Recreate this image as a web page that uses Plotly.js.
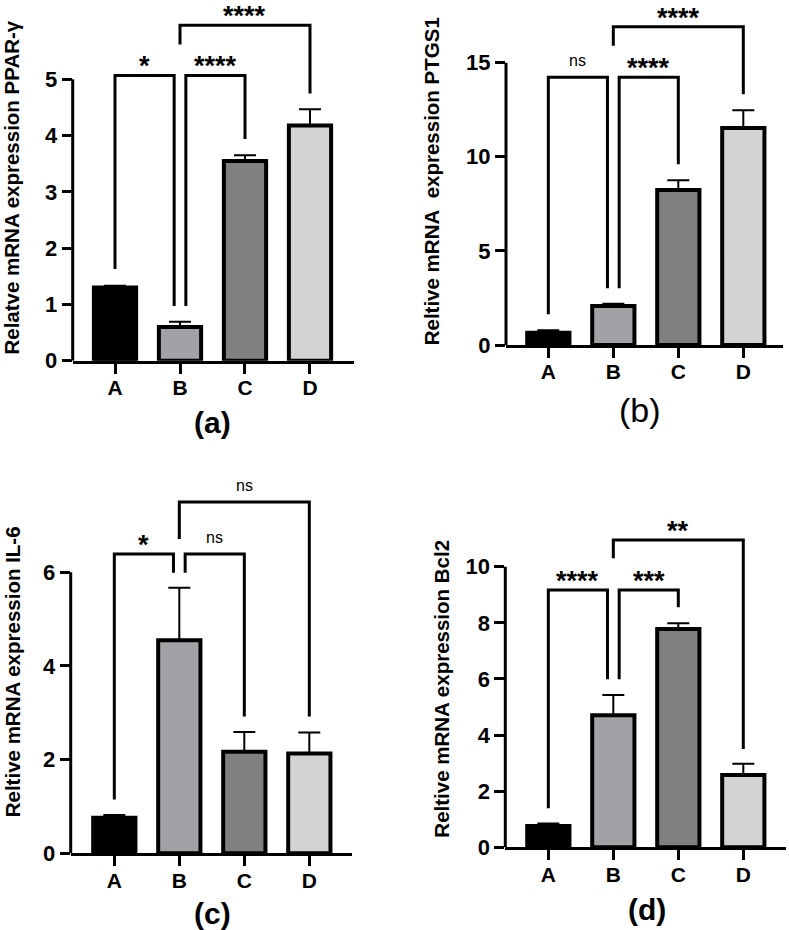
<!DOCTYPE html>
<html><head><meta charset="utf-8">
<script src="https://cdn.plot.ly/plotly-3.0.1.min.js"></script>
<style>html,body{margin:0;padding:0;background:#fff}#chart{width:789px;height:930px}</style>
</head><body><div id="chart"></div>
<script>
// ---------- data ----------
const categories = ['A', 'B', 'C', 'D'];

const pparMean  = [1.30, 0.60, 3.55, 4.18];
const pparSem   = [0.03, 0.09, 0.10, 0.29];
const ptgs1Mean = [0.65, 2.07, 8.24, 11.53];
const ptgs1Sem  = [0.13, 0.12, 0.51, 0.94];
const il6Mean   = [0.76, 4.55, 2.17, 2.13];
const il6Sem    = [0.06, 1.12, 0.42, 0.45];
const bcl2Mean  = [0.76, 4.71, 7.78, 2.58];
const bcl2Sem   = [0.09, 0.72, 0.20, 0.40];

const pparTicks  = [0, 1, 2, 3, 4, 5];
const ptgs1Ticks = [0, 5, 10, 15];
const il6Ticks   = [0, 2, 4, 6];
const bcl2Ticks  = [0, 2, 4, 6, 8, 10];

// comparisons: pairs, significance labels, bracket heights, leg ends (data units)
const pairs = [['A', 'B'], ['B', 'C'], ['B', 'D']];
const pparSig    = ['*', '****', '****'];
const pparBarY   = [5.07, 5.07, 5.96];
const pparLegs   = [[1.63, 0.97], [0.97, 3.94], [5.62, 4.75]];
const ptgs1Sig   = ['ns', '****', '****'];
const ptgs1BarY  = [14.22, 14.22, 16.91];
const ptgs1Legs  = [[1.63, 3.01], [3.01, 9.60], [15.9, 13.32]];
const il6Sig     = ['*', 'ns', 'ns'];
const il6BarY    = [6.39, 6.39, 7.50];
const il6Legs    = [[1.15, 5.99], [5.99, 2.92], [6.71, 2.92]];
const bcl2Sig    = ['****', '***', '**'];
const bcl2BarY   = [9.17, 9.17, 10.95];
const bcl2Legs   = [[1.39, 5.99], [5.99, 8.55], [10.30, 3.50]];

const pparTitle  = 'Relatve mRNA expression PPAR-γ';
const ptgs1Title = 'Reltive mRNA\u00a0 expression PTGS1';
const il6Title   = 'Reltive mRNA expression IL-6';
const bcl2Title  = 'Reltive mRNA expression Bcl2';
const panelLabels = ['(a)', '(b)', '(c)', '(d)'];

// ---------- styling ----------
const barColors = ['#000000', '#a2a2a6', '#808080', '#d3d3d3'];
const FONT = 'Liberation Sans, Arial, Helvetica, sans-serif';

const panels = [
  {mean: pparMean, sem: pparSem, ticks: pparTicks, sig: pparSig, by: pparBarY, legs: pparLegs, title: pparTitle,
   xdom: [0.09214, 0.44867], xr: [-0.651, 3.677], ydom: [0.61215, 0.98430], yTop: 6.15, standoff: 19,
   label: {x: 213, y: 422, bold: true, size: 30}},
  {mean: ptgs1Mean, sem: ptgs1Sem, ticks: ptgs1Ticks, sig: ptgs1Sig, by: ptgs1BarY, legs: ptgs1Legs, title: ptgs1Title,
   xdom: [0.64132, 0.99202], xr: [-0.651, 3.606], ydom: [0.62903, 0.98118], yTop: 17.4, standoff: 20,
   label: {x: 640, y: 410, bold: false, size: 34}},
  {mean: il6Mean, sem: il6Sem, ticks: il6Ticks, sig: il6Sig, by: il6BarY, legs: il6Legs, title: il6Title,
   xdom: [0.08961, 0.44575], xr: [-0.671, 3.652], ydom: [0.08247, 0.47269], yTop: 7.75, standoff: 16,
   label: {x: 212, y: 913, bold: true, size: 30}},
  {mean: bcl2Mean, sem: bcl2Sem, ticks: bcl2Ticks, sig: bcl2Sig, by: bcl2BarY, legs: bcl2Legs, title: bcl2Title,
   xdom: [0.64043, 0.99620], xr: [-0.662, 3.657], ydom: [0.08892, 0.42989], yTop: 11.3, standoff: 10,
   label: {x: 647, y: 909, bold: true, size: 30}}
];

const idx = categories.map((c, i) => i);
const traces = [];
const layout = {
  width: 789, height: 930,
  margin: {l: 0, r: 0, t: 0, b: 0},
  paper_bgcolor: '#ffffff', plot_bgcolor: 'rgba(0,0,0,0)',
  showlegend: false,
  font: {family: FONT, color: '#000000'},
  shapes: [], annotations: []
};

const GAP = 0.09;

panels.forEach((p, k) => {
  const n = k === 0 ? '' : String(k + 1);
  const xa = 'x' + n, ya = 'y' + n;

  traces.push({
    type: 'bar', x: idx, y: p.mean, xaxis: xa, yaxis: ya, width: 0.65,
    marker: {color: barColors, line: {color: '#000000', width: 4}},
    error_y: {type: 'data', symmetric: false, array: p.sem, arrayminus: p.sem.map(() => 0),
              color: '#000000', thickness: 2, width: 11},
    hoverinfo: 'skip'
  });

  // significance brackets
  pairs.forEach((pr, j) => {
    let i0 = categories.indexOf(pr[0]), i1 = categories.indexOf(pr[1]);
    let x0 = i0, x1 = i1;
    if (i1 - i0 === 1) {
      if (i1 === 1) x1 -= GAP;
      if (i0 === 1) x0 += GAP;
    }
    traces.push({
      type: 'scatter', mode: 'lines', xaxis: xa, yaxis: ya,
      x: [x0, x0, x1, x1], y: [p.legs[j][0], p.by[j], p.by[j], p.legs[j][1]],
      line: {color: '#000000', width: 3}, hoverinfo: 'skip'
    });
    const isNs = p.sig[j] === 'ns';
    layout.annotations.push({
      xref: xa, yref: ya, x: (x0 + x1) / 2, y: p.by[j], yanchor: 'bottom', xanchor: 'center',
      text: p.sig[j], showarrow: false,
      yshift: isNs ? 6 : -8,
      font: {family: FONT, size: isNs ? 16 : 27, weight: isNs ? 'normal' : 'bold', color: '#000000'}
    });
  });

  layout['xaxis' + n] = {
    domain: p.xdom, range: p.xr, anchor: ya, tickmode: 'array', tickvals: idx, ticktext: categories,
    showline: true, linecolor: '#000000', linewidth: 3, ticks: 'outside', ticklen: 10, tickwidth: 3,
    tickcolor: '#000000', showgrid: false, zeroline: false, fixedrange: true, ticklabelstandoff: -4,
    tickfont: {family: FONT, size: 21, weight: 'bold', color: '#000000'}
  };
  layout['yaxis' + n] = {
    domain: p.ydom, range: [0, p.yTop], anchor: xa, tickmode: 'array', tickvals: p.ticks,
    showline: false, ticks: 'outside', ticklen: 10, tickwidth: 3, tickcolor: '#000000',
    showgrid: false, zeroline: false, fixedrange: true,
    tickfont: {family: FONT, size: 22, weight: 'bold', color: '#000000'},
    title: {text: p.title, standoff: p.standoff, font: {family: FONT, size: 20.5, weight: 'bold', color: '#000000'}}
  };
  // visible y axis line up to the last tick
  layout.shapes.push({
    type: 'line', xref: xa + ' domain', yref: ya, x0: 0, x1: 0, y0: 0, y1: p.ticks[p.ticks.length - 1],
    line: {color: '#000000', width: 3}
  });
  layout.annotations.push({
    xref: 'paper', yref: 'paper', x: p.label.x / 789, y: 1 - p.label.y / 930,
    xanchor: 'center', yanchor: 'middle', showarrow: false, text: panelLabels[k],
    font: {family: FONT, size: p.label.size, weight: p.label.bold ? 'bold' : 'normal', color: '#000000'}
  });
});

Plotly.newPlot('chart', traces, layout, {displayModeBar: false, staticPlot: true});
</script>
</body></html>
